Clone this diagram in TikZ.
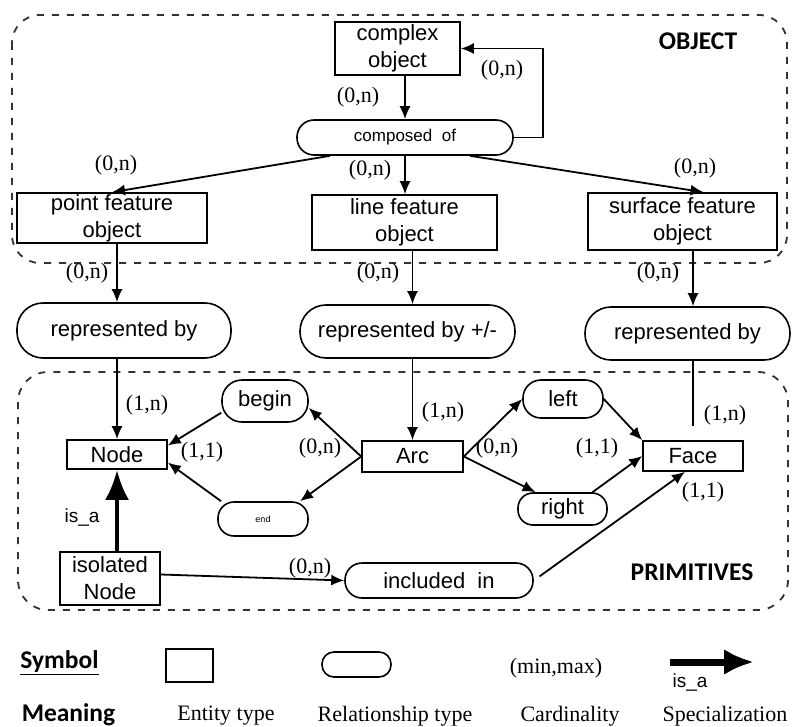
\documentclass[tikz,border=0pt]{standalone}
\usepackage{fontspec}
\setmainfont{Liberation Serif}
\setsansfont{Liberation Sans}
\newfontfamily\headfont{Carlito}
\usetikzlibrary{arrows.meta}

\begin{document}
\begin{tikzpicture}[x=1pt, y=-1pt,
    entity/.style={draw, rectangle, line width=1.6pt, inner sep=0pt, align=center,
        font=\sffamily\fontsize{22}{27}\selectfont},
    relation/.style={entity, rounded corners=#1},
    card/.style={font=\fontsize{22}{22}\selectfont, inner sep=0pt},
    link/.style={line width=1.8pt, -{Latex[length=13pt, width=11pt]}},
    isalink/.style={line width=4.5pt, -{Latex[length=30pt, width=24pt]}},
    frame/.style={line width=1.8pt, dash pattern=on 7pt off 8pt, black!80},
    title/.style={font=\headfont\bfseries\fontsize{25.5}{25.5}\selectfont, inner sep=0pt},
    meaning/.style={font=\fontsize{22}{22}\selectfont, inner sep=0pt}]

        \useasboundingbox (0,0) rectangle (792,727);

        % Dashed frames
        \draw[frame, rounded corners=28pt] (12,15) rectangle (787,263);
        \draw[frame, rounded corners=30pt] (18,372) rectangle (788,610);
        \node[title] (objTitle) at (698,41) {OBJECT};
        \node[title] (primTitle) at (692,572) {PRIMITIVES};

        % Object level
        \node[entity, minimum width=125pt, minimum height=53pt] (cobj) at (397.5,48.5) {complex\\object};
        \node[relation=17pt, minimum width=216pt, minimum height=35pt,
            font=\sffamily\fontsize{17}{17}\selectfont] (comp) at (405,137.5) {composed\ \ of};
        \node[entity, minimum width=190pt, minimum height=50pt] (pfo) at (112,218) {point feature\\object};
        \node[entity, minimum width=185pt, minimum height=55pt] (lfo) at (404.5,222.5) {line feature\\object};
        \node[entity, minimum width=189pt, minimum height=57pt] (sfo) at (682.5,221.5) {surface feature\\object};

        % Representation
        \node[relation=26pt, minimum width=214pt, minimum height=55pt] (repP) at (124,330.5) {represented by};
        \node[relation=26pt, minimum width=215pt, minimum height=53pt] (repL) at (407.5,331.5) {represented by +/-};
        \node[relation=26pt, minimum width=205pt, minimum height=53pt] (repS) at (687.5,333.5) {represented by};

        % Primitives
        \node[entity, minimum width=100pt, minimum height=29pt] (nd) at (117,454.5) {Node};
        \node[entity, minimum width=100pt, minimum height=53pt] (iso) at (110,578.5) {isolated\\Node};
        \node[relation=20pt, minimum width=86pt, minimum height=42pt] (relBegin) at (265,401) {begin};
        \node[relation=16pt, minimum width=90pt, minimum height=34pt,
            font=\sffamily\fontsize{9}{9}\selectfont] (relEnd) at (263,519) {end};
        \node[entity, minimum width=101pt, minimum height=31pt] (arc) at (412.5,456.5) {Arc};
        \node[relation=18pt, minimum width=80pt, minimum height=38pt] (relLeft) at (563,399) {left};
        \node[relation=15pt, minimum width=89pt, minimum height=32pt] (relRight) at (562.5,509) {right};
        \node[entity, minimum width=100pt, minimum height=30pt] (face) at (693,456) {Face};
        \node[relation=17pt, minimum width=188pt, minimum height=35pt] (incl) at (439,580.5) {included\ \ in};

        % Connectors
        \draw[link] (cobj.south -| comp.north) -- (comp.north);
        \draw[link] (comp.east) -- ++(29,0) |- (cobj.east);
        \draw[link] ([xshift=-75pt]comp.south) -- (pfo.north);
        \draw[link] (comp.south) -- (comp.south |- lfo.north);
        \draw[link] ([xshift=65pt]comp.south) -- ([xshift=21pt]sfo.north);
        \draw[link] (pfo.south -| nd) -- (repP.north -| nd);
        \draw[link] (lfo.south -| arc) -- (repL.north -| arc);
        \draw[link] (sfo.south -| face) -- (repS.north -| face);
        \draw[link] (repP.south -| nd) -- (nd.north);
        \draw[link] (repL.south -| arc) -- (arc.north);
        \draw[line width=1.8pt, shorten >=14pt] (repS.south -| face) -- (face.north);
        \draw[link] (relBegin.195) -- ([yshift=9pt]nd.east);
        \draw[link] (relEnd.157) -- ([yshift=-8pt]nd.east);
        \draw[link] (arc.west) -- (relBegin.-9);
        \draw[link] (arc.west) -- ([xshift=37pt]relEnd.north);
        \draw[link] (arc.east) -- (relLeft.west);
        \draw[link] (arc.east) -- ([xshift=-27pt]relRight.north);
        \draw[link] (relLeft.east) -- (face.north west);
        \draw[link] ([xshift=30pt]relRight.north) -- (face.west);
        \draw[link] ([yshift=4pt]iso.east) -- (incl.west);
        \draw[link, shorten <=7pt] (incl.east) -- ([xshift=-8pt]face.south);
        \draw[isalink] (iso.north -| nd) -- (nd.south);

        % Cardinalities
        \node[card] (cA) at (358,97) {(0,n)};
        \node[card] (cB) at (502,70) {(0,n)};
        \node[card] (cC) at (116,165) {(0,n)};
        \node[card] (cD) at (370,170) {(0,n)};
        \node[card] (cE) at (695,168) {(0,n)};
        \node[card] (cF) at (87,273) {(0,n)};
        \node[card] (cG) at (378,273) {(0,n)};
        \node[card] (cH) at (658,273) {(0,n)};
        \node[card] (cI) at (147,405) {(1,n)};
        \node[card] (cJ) at (202,452) {(1,1)};
        \node[card] (cK) at (320,448) {(0,n)};
        \node[card] (cL) at (443,412) {(1,n)};
        \node[card] (cM) at (497,448) {(0,n)};
        \node[card] (cN) at (597,448) {(1,1)};
        \node[card] (cO) at (725,415) {(1,n)};
        \node[card] (cP) at (703,492) {(1,1)};
        \node[card] (cQ) at (310,568) {(0,n)};
        \node[font=\sffamily\fontsize{19}{19}\selectfont, inner sep=0pt] (isaLbl) at (82,518) {is\_a};

        % Legend
        \node[title] (symbolLbl) at (59.5,663) {\underline{Symbol}};
        \node[entity, minimum width=47pt, minimum height=33pt] (legEnt) at (189.5,665.5) {};
        \node[relation=12pt, minimum width=69pt, minimum height=25pt] (legRel) at (356.5,664.5) {};
        \node[meaning] (legCard) at (556,668) {(min,max)};
        \coordinate (legFrom) at (670,662);
        \coordinate (legTo) at (754,662);
        \draw[line width=7pt, -{Latex[length=30pt, width=26pt]}] (legFrom) -- (legTo);
        \node[font=\sffamily\fontsize{19}{19}\selectfont, inner sep=0pt] (legIsa) at (690,682) {is\_a};

        \node[title] (meaningLbl) at (68.5,716) {\underline{Meaning}};
        \node[meaning] (mEnt) at (226,716) {Entity type};
        \node[meaning] (mRel) at (395,716) {Relationship type};
        \node[meaning] (mCard) at (570,716) {Cardinality};
        \node[meaning] (mSpec) at (725,716) {Specialization};

    \end{tikzpicture}
\end{document}
